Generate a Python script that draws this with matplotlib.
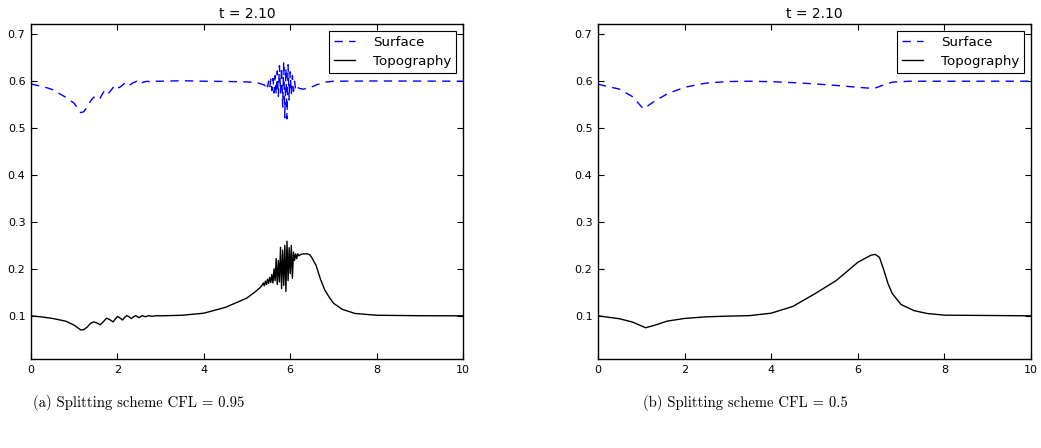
import matplotlib
matplotlib.use("Agg")
import matplotlib.pyplot as plt

TITLE = "t = 2.10"
CAPTIONS = ["(a) Splitting scheme CFL = 0.95", "(b) Splitting scheme CFL = 0.5"]
X_TICKS = [0, 2, 4, 6, 8, 10]
Y_TICKS = [0.1, 0.2, 0.3, 0.4, 0.5, 0.6, 0.7]

# (a) CFL = 0.95
SURF_A_X = [0.0, 0.3, 0.5, 0.8, 1.0, 1.15, 1.22, 1.3, 1.38, 1.45, 1.52, 1.58, 1.66, 1.72, 1.8,
            1.88, 1.95, 2.03, 2.1, 2.18, 2.27, 2.35, 2.45, 2.52, 2.6, 2.7, 2.8, 2.9, 3.0, 3.5,
            4.0, 4.5, 5.0, 5.2, 5.3, 5.4,
            5.425, 5.45, 5.475, 5.5, 5.525, 5.55, 5.575, 5.6, 5.625, 5.65, 5.675, 5.7, 5.725,
            5.75, 5.775, 5.8, 5.825, 5.85, 5.875, 5.9, 5.925, 5.95, 5.975, 6.0, 6.025, 6.05,
            6.075, 6.1, 6.125, 6.15, 6.2, 6.3, 6.45, 6.6, 6.8, 7.0, 8.0, 10.0]
SURF_A_Y = [0.594, 0.588, 0.582, 0.566, 0.553, 0.533, 0.535, 0.545, 0.558, 0.566, 0.562, 0.561,
            0.574, 0.582, 0.575, 0.584, 0.592, 0.586, 0.590, 0.597, 0.591, 0.596, 0.600, 0.594,
            0.598, 0.600, 0.597, 0.600, 0.600, 0.601, 0.600, 0.5995, 0.5985, 0.597, 0.595, 0.592,
            0.590, 0.597, 0.588, 0.600, 0.586, 0.604, 0.580, 0.606, 0.575, 0.612, 0.571, 0.622,
            0.568, 0.633, 0.575, 0.630, 0.545, 0.642, 0.522, 0.628, 0.520, 0.635, 0.560, 0.620,
            0.572, 0.612, 0.578, 0.600, 0.583, 0.590, 0.585, 0.583, 0.586, 0.592, 0.598, 0.600,
            0.6005, 0.600]

TOPO_A_X = [0.0, 0.3, 0.5, 0.8, 1.0, 1.15, 1.22, 1.3, 1.38, 1.45, 1.52, 1.6, 1.67, 1.75, 1.82,
            1.9, 1.95, 2.0, 2.05, 2.12, 2.16, 2.22, 2.27, 2.32, 2.36, 2.42, 2.5, 2.57, 2.65,
            2.72, 2.8, 2.9, 3.0, 3.5, 4.0, 4.5, 5.0, 5.2, 5.3,
            5.35, 5.375, 5.4, 5.425, 5.45, 5.475, 5.5, 5.525, 5.55, 5.575, 5.6, 5.625, 5.65,
            5.675, 5.7, 5.725, 5.75, 5.775, 5.8, 5.825, 5.85, 5.875, 5.9, 5.925, 5.95, 5.975,
            6.0, 6.025, 6.05, 6.075, 6.1, 6.125, 6.15, 6.175, 6.2,
            6.25, 6.3, 6.4, 6.45, 6.5, 6.6, 6.7, 6.8, 6.9, 7.0, 7.2, 7.5, 8.0, 9.0, 10.0]
TOPO_A_Y = [0.100, 0.097, 0.0944, 0.0887, 0.080, 0.070, 0.0705, 0.076, 0.084, 0.087, 0.085,
            0.081, 0.087, 0.095, 0.092, 0.087, 0.093, 0.0986, 0.096, 0.091, 0.096, 0.1005,
            0.098, 0.094, 0.097, 0.1005, 0.096, 0.1005, 0.098, 0.1003, 0.099, 0.1002, 0.100,
            0.1012, 0.1056, 0.118, 0.138, 0.152, 0.160,
            0.165, 0.170, 0.164, 0.174, 0.167, 0.178, 0.169, 0.182, 0.171, 0.188, 0.170, 0.200,
            0.175, 0.222, 0.167, 0.218, 0.172, 0.246, 0.158, 0.240, 0.165, 0.250, 0.152, 0.259,
            0.175, 0.245, 0.190, 0.250, 0.180, 0.236, 0.218, 0.232, 0.222, 0.232, 0.228,
            0.231, 0.232, 0.232, 0.230, 0.224, 0.207, 0.178, 0.155, 0.140, 0.127, 0.114,
            0.105, 0.1012, 0.1002, 0.100]

# (b) CFL = 0.5
SURF_B_X = [0.0, 0.5, 0.8, 1.05, 1.3, 1.6, 2.0, 2.5, 3.0, 3.5, 4.0, 4.5, 5.0, 5.5, 6.0, 6.3,
            6.4, 6.6, 6.8, 7.2, 10.0]
SURF_B_Y = [0.5936, 0.583, 0.567, 0.541, 0.557, 0.573, 0.587, 0.596, 0.5993, 0.600, 0.599,
            0.597, 0.5943, 0.591, 0.587, 0.585, 0.5855, 0.592, 0.598, 0.600, 0.600]

TOPO_B_X = [0.0, 0.5, 0.8, 1.1, 1.3, 1.6, 2.0, 2.5, 3.0, 3.5, 4.0, 4.5, 5.0, 5.5, 6.0, 6.3,
            6.4, 6.5, 6.6, 6.7, 6.8, 7.0, 7.3, 7.6, 8.0, 10.0]
TOPO_B_Y = [0.100, 0.0937, 0.0866, 0.0746, 0.0796, 0.0887, 0.0944, 0.0979, 0.0993, 0.1004,
            0.1056, 0.120, 0.1465, 0.175, 0.214, 0.229, 0.231, 0.2246, 0.198, 0.168, 0.147,
            0.124, 0.111, 0.105, 0.1014, 0.100]

plt.rcParams["xtick.direction"] = "in"
plt.rcParams["ytick.direction"] = "in"
plt.rcParams["xtick.top"] = True
plt.rcParams["ytick.right"] = True
plt.rcParams["xtick.major.size"] = 4
plt.rcParams["ytick.major.size"] = 4
plt.rcParams["axes.linewidth"] = 1.0

fig = plt.figure(figsize=(10.41, 4.48), dpi=100)
ax_a = fig.add_axes([0.0298, 0.1987, 0.415, 0.7478])
ax_b = fig.add_axes([0.5744, 0.1987, 0.416, 0.7478])

panels = [(ax_a, SURF_A_X, SURF_A_Y, TOPO_A_X, TOPO_A_Y),
          (ax_b, SURF_B_X, SURF_B_Y, TOPO_B_X, TOPO_B_Y)]

for ax, sx, sy, tx, ty in panels:
    ax.plot(sx, sy, color="b", linestyle="--", dashes=(6, 4.5), lw=1.0, label="Surface")
    ax.plot(tx, ty, color="k", lw=1.0, label="Topography")
    ax.set_xlim(0, 10)
    ax.set_ylim(0.008, 0.722)
    ax.set_xticks(X_TICKS)
    ax.set_yticks(Y_TICKS)
    ax.set_yticklabels(["%.1f" % v for v in Y_TICKS])
    ax.tick_params(labelsize=8, pad=4)
    ax.set_title(TITLE, fontsize=10, pad=4)
    leg = ax.legend(loc="upper right", prop={"size": 9.6}, fancybox=False, framealpha=1,
                    edgecolor="black", handlelength=1.6, handletextpad=1.3,
                    borderpad=0.4, labelspacing=0.45, borderaxespad=0.5)
    leg.get_frame().set_linewidth(0.8)

fig.text(139 / 1041, 1 - 403 / 448, CAPTIONS[0], family="cmr10", fontsize=10.6,
         ha="center", va="center")
fig.text(745 / 1041, 1 - 403 / 448, CAPTIONS[1], family="cmr10", fontsize=10.6,
         ha="center", va="center")

fig.savefig("out.png", dpi=100)
